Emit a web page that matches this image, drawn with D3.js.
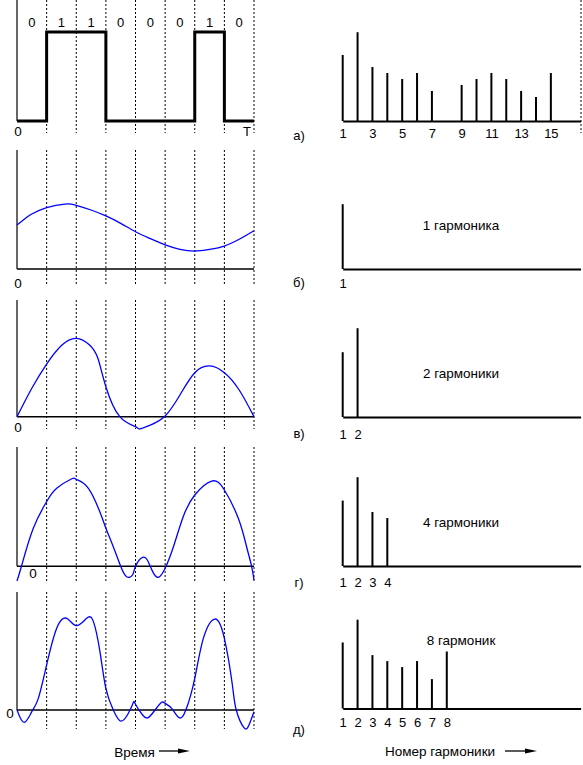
<!DOCTYPE html>
<html>
<head>
<meta charset="utf-8">
<script src="https://cdn.jsdelivr.net/npm/d3@7"></script>
<style>
  html, body { margin: 0; padding: 0; background: #fff; }
  svg { display: block; }
  text { font-family: "Liberation Sans", Arial, sans-serif; font-size: 13px; fill: #000; }
</style>
</head>
<body>
<svg id="chart" width="583" height="765"></svg>
<script>
// ---------------- DATA ----------------
const bits = [0, 1, 1, 0, 0, 0, 1, 0];
const bitLabels = ["0", "1", "1", "0", "0", "0", "1", "0"];
const panelLetters = ["а)", "б)", "в)", "г)", "д)"];
const harmonicCaptions = ["", "1 гармоника", "2 гармоники", "4 гармоники", "8 гармоник"];
const timeLabel = "Время";
const harmonicAxisLabel = "Номер гармоники";

// Partial Fourier sums: [time in bit intervals, level (1 = pulse height)]
const curve1 = [[0,0.494],[0.33,0.581],[0.5,0.618],[1,0.689],[1.62,0.730],[2,0.716],[2.5,0.663],[3,0.596],[3.5,0.513],[4,0.419],[4.5,0.341],[5,0.270],[5.5,0.221],[6,0.202],[6.5,0.221],[7,0.258],[7.5,0.334],[8,0.430]];
const curve2 = [[0,0],[0.5,0.32],[1,0.592],[1.5,0.80],[2,0.881],[2.45,0.806],[2.73,0.656],[3,0.337],[3.47,0],[4,-0.112],[4.14,-0.138],[4.5,-0.094],[5,0.008],[5.5,0.244],[6,0.494],[6.5,0.57],[7,0.494],[7.5,0.30],[8,0]];
const curve4 = [[0,-0.165],[0.15,0],[0.55,0.427],[1,0.726],[1.34,0.876],[1.85,0.984],[2,0.977],[2.41,0.876],[2.86,0.557],[3,0.427],[3.25,0.22],[3.5,0],[3.7,-0.117],[3.9,-0.098],[4,0],[4.24,0.101],[4.43,0.052],[4.58,-0.06],[4.77,-0.124],[5,-0.022],[5.28,0.22],[5.61,0.557],[6,0.801],[6.57,0.958],[7,0.857],[7.47,0.539],[7.75,0.22],[7.92,0],[8,-0.154]];
const curve8 = [[0,0],[0.24,-0.139],[0.5,-0.019],[0.72,0.131],[1,0.506],[1.34,0.918],[1.68,1.03],[2,0.948],[2.35,1.03],[2.58,0.993],[2.80,0.655],[3,0.243],[3.25,0],[3.5,-0.124],[3.76,-0.037],[3.93,0.086],[4,0.064],[4.24,-0.056],[4.43,-0.086],[4.66,0],[4.88,0.086],[5,0.075],[5.22,0.019],[5.47,-0.086],[5.70,0],[6,0.356],[6.29,0.805],[6.68,1.022],[7,0.805],[7.27,0.281],[7.40,0],[7.66,-0.199],[7.83,-0.169],[8,-0.019]];

// Harmonic amplitudes (arbitrary units), index 0 = harmonic 1
const spectrumFull = [11, 14.8, 9, 8, 7, 8, 5, 0, 6, 7, 8, 7, 5, 4, 8];
const spectrum1 = [10.8];
const spectrum2 = [10.8, 14.8];
const spectrum4 = [10.9, 14.8, 9, 8];
const spectrum8 = [11, 14.8, 8.9, 7.9, 6.9, 7.9, 4.9, 9.5];

const tickLabelsFull = [1, 3, 5, 7, 9, 11, 13, 15];
const tickLabels1 = [1];
const tickLabels2 = [1, 2];
const tickLabels4 = [1, 2, 3, 4];
const tickLabels8 = [1, 2, 3, 4, 5, 6, 7, 8];

// ---------------- LAYOUT ----------------
const svg = d3.select("#chart");
const x = d3.scaleLinear().domain([0, 8]).range([17, 254]);
const xh = d3.scaleLinear().domain([1, 17]).range([342.7, 580.6]);
const UNIT = 89;   // px per level unit (left)
const HUNIT = 6;   // px per amplitude unit (right)

const panels = [
  { top: 0,   base: 121,   dotBottom: 133, rbase: 121,   curve: null,   spec: spectrumFull, ticks: tickLabelsFull, pad: 7.5, letterY: 135, zero: [18, 131], capY: 0 },
  { top: 150, base: 269,   dotBottom: 284, rbase: 269,   curve: curve1, spec: spectrum1,    ticks: tickLabels1,    pad: 9.5, letterY: 282, zero: [18, 283], capY: 225 },
  { top: 300, base: 416.7, dotBottom: 429, rbase: 417,   curve: curve2, spec: spectrum2,    ticks: tickLabels2,    pad: 12.5, letterY: 433, zero: [18, 427], capY: 373 },
  { top: 447, base: 566.3, dotBottom: 581, rbase: 566,   curve: curve4, spec: spectrum4,    ticks: tickLabels4,    pad: 11.5, letterY: 582, zero: [33, 573], capY: 522 },
  { top: 592, base: 710,   dotBottom: 729, rbase: 708.5, curve: curve8, spec: spectrum8,    ticks: tickLabels8,    pad: 9,  letterY: 729, zero: [10, 713], capY: 640 }
];

panels.forEach((p, i) => {
  const g = svg.append("g");
  const y = d3.scaleLinear().domain([0, 1]).range([p.base, p.base - UNIT]);

  // dotted grid lines at bit boundaries
  g.selectAll("line.grid").data(d3.range(1, 9)).join("line")
    .attr("x1", d => x(d)).attr("x2", d => x(d))
    .attr("y1", p.top).attr("y2", p.dotBottom)
    .attr("stroke", "#000").attr("stroke-width", 1).attr("stroke-dasharray", "2,2");

  // y axis
  g.append("line").attr("x1", x(0)).attr("x2", x(0)).attr("y1", p.top).attr("y2", p.base)
    .attr("stroke", "#000").attr("stroke-width", 1.2);

  if (i === 0) {
    const pts = bits.map((b, k) => [k, b]).concat([[8, bits[bits.length - 1]]]);
    g.append("path")
      .attr("d", d3.line().x(d => x(d[0])).y(d => y(d[1])).curve(d3.curveStepAfter)(pts))
      .attr("fill", "none").attr("stroke", "#000").attr("stroke-width", 3);
    g.selectAll("text.bit").data(bitLabels).join("text")
      .attr("x", (d, k) => x(k + 0.5)).attr("y", 22).attr("dy", "0.35em")
      .attr("text-anchor", "middle").text(d => d);
    g.append("text").attr("x", 247).attr("y", 131).attr("dy", "0.35em").attr("text-anchor", "middle").text("T");
    g.append("line").attr("x1", 581).attr("x2", 581).attr("y1", 0).attr("y2", 133)
      .attr("stroke", "#000").attr("stroke-width", 1).attr("stroke-dasharray", "2,2");
  } else {
    g.append("line").attr("x1", x(0)).attr("x2", x(8)).attr("y1", p.base).attr("y2", p.base)
      .attr("stroke", "#000").attr("stroke-width", 1.5);
    g.append("path")
      .attr("d", d3.line().x(d => x(d[0])).y(d => y(d[1])).curve(d3.curveNatural)(p.curve))
      .attr("fill", "none").attr("stroke", "#0000ff").attr("stroke-width", 1.3);
  }
  g.append("text").attr("x", p.zero[0]).attr("y", p.zero[1]).attr("dy", "0.35em")
    .attr("text-anchor", "middle").style("font-size", "13.5px").text("0");

  // spectrum
  const yh = d3.scaleLinear().domain([0, 1]).range([p.rbase, p.rbase - HUNIT]);
  const axis = d3.axisBottom(xh).tickValues(p.ticks).tickSize(0).tickSizeOuter(0).tickPadding(p.pad).tickFormat(d3.format("d"));
  const ag = g.append("g").attr("transform", `translate(0,${p.rbase})`).call(axis);
  ag.select(".domain").attr("stroke", "#000").attr("stroke-width", 2);
  ag.selectAll("text").attr("fill", "#000").style("font-size", "13px")
    .style("font-family", '"Liberation Sans", Arial, sans-serif');

  g.selectAll("line.bar").data(p.spec.map((v, k) => ({ n: k + 1, v }))).join("line")
    .filter(d => d.v > 0)
    .attr("x1", d => xh(d.n)).attr("x2", d => xh(d.n))
    .attr("y1", yh(0)).attr("y2", d => yh(d.v))
    .attr("stroke", "#000").attr("stroke-width", 2);

  g.append("text").attr("x", 299).attr("y", p.letterY).attr("dy", "0.35em")
    .attr("text-anchor", "middle").text(panelLetters[i]);
  if (harmonicCaptions[i]) {
    g.append("text").attr("x", 461).attr("y", p.capY).attr("dy", "0.35em")
      .attr("text-anchor", "middle").style("font-size", "13.5px").text(harmonicCaptions[i]);
  }
});

// bottom labels with arrows
function arrow(x1, x2, yy) {
  svg.append("line").attr("x1", x1).attr("x2", x2 - 6).attr("y1", yy).attr("y2", yy)
    .attr("stroke", "#000").attr("stroke-width", 1.3);
  svg.append("path").attr("d", `M${x2 - 12},${yy - 2.5}L${x2},${yy}L${x2 - 12},${yy + 2.5}Z`).attr("fill", "#000");
}
svg.append("text").attr("x", 134.5).attr("y", 752).attr("dy", "0.35em").attr("text-anchor", "middle").style("font-size", "13.5px").text(timeLabel);
arrow(159, 190, 751);
svg.append("text").attr("x", 440).attr("y", 751).attr("dy", "0.35em").attr("text-anchor", "middle").style("font-size", "13.5px").text(harmonicAxisLabel);
arrow(505, 537, 751);
</script>
</body>
</html>
